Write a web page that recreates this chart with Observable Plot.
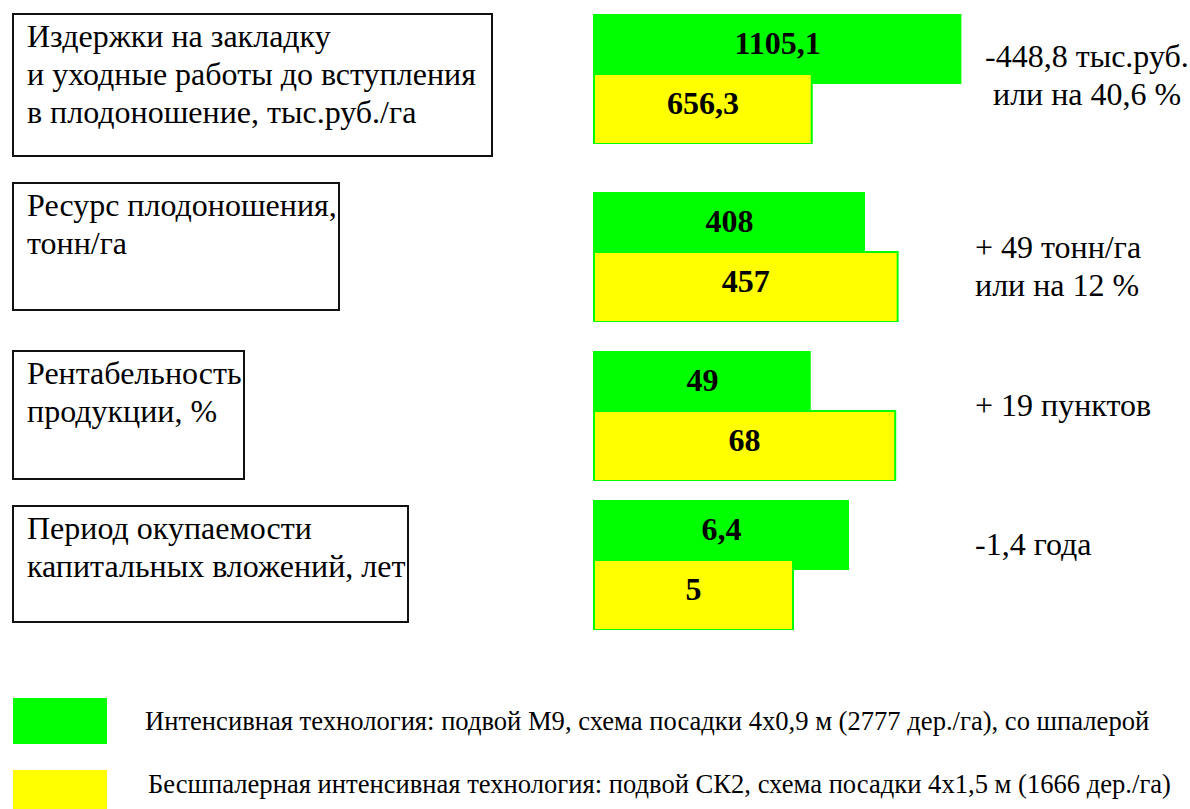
<!DOCTYPE html>
<html>
<head>
<meta charset="utf-8">
<script src="https://cdn.jsdelivr.net/npm/d3@7"></script>
<script src="https://cdn.jsdelivr.net/npm/@observablehq/plot@0.6"></script>
<style>
  html, body { margin: 0; padding: 0; background: #fff; }
  body { width: 1190px; height: 809px; position: relative; overflow: hidden;
         font-family: "Liberation Serif", "Times New Roman", serif; color: #000; }
  .box { position: absolute; box-sizing: border-box; border: 2px solid #111;
         padding: 2px 0 0 13px; font-family: "Liberation Serif", serif;
         font-size: 32px; line-height: 38px; white-space: pre; }
  .note { position: absolute; font-family: "Liberation Serif", serif;
          font-size: 32px; line-height: 38px; white-space: pre; }
  .plot { position: absolute; left: 0; }
  .sw { position: absolute; left: 13px; width: 94px; height: 46px; }
  .leg { position: absolute; font-family: "Liberation Serif", serif;
         font-size: 26.6px; line-height: 38px; white-space: pre; }
</style>
</head>
<body>
<script>
// ---- data ----
const indicators = [
  "Издержки на закладку\nи уходные работы до вступления\nв плодоношение, тыс.руб./га",
  "Ресурс плодоношения,\nтонн/га",
  "Рентабельность\nпродукции, %",
  "Период окупаемости\nкапитальных вложений, лет"
];
const intensiveValues = [1105.1, 408, 49, 6.4];
const noTrellisValues = [656.3, 457, 68, 5];
const changes = [
  "-448,8 тыс.руб.\n или на 40,6 %",
  "+ 49 тонн/га\nили на 12 %",
  "+ 19 пунктов",
  "-1,4 года"
];
const seriesKeys = ["intensive", "noTrellis"];
const seriesNames = [
  "Интенсивная технология: подвой М9, схема посадки 4х0,9 м (2777 дер./га), со шпалерой",
  "Бесшпалерная интенсивная технология: подвой СК2, схема посадки 4х1,5 м (1666 дер./га)"
];
const seriesColors = ["#00ff00", "#ffff00"];
const scaleMax = [1200, 600, 90, 10]; // per-indicator x-axis limits

// ---- layout (positions only) ----
const boxLayout = [
  {left: 12, top: 13, width: 481, height: 144},
  {left: 12, top: 182, width: 328, height: 129},
  {left: 12, top: 350, width: 233, height: 130},
  {left: 12, top: 505, width: 397, height: 118}
];
const plotTops = [14, 192, 351, 500];
const noteLayout = [
  {left: 985, top: 37},
  {left: 975, top: 228},
  {left: 975, top: 386},
  {left: 975, top: 525}
];

const fmt = v => String(v).replace(".", ",");
const labelStyle = {
  fontSize: 32, fontWeight: "bold", fill: "#000",
  fontFamily: "Liberation Serif, Times New Roman, serif"
};

indicators.forEach((label, i) => {
  const box = document.createElement("div");
  box.className = "box";
  Object.assign(box.style, {
    left: boxLayout[i].left + "px", top: boxLayout[i].top + "px",
    width: boxLayout[i].width + "px", height: boxLayout[i].height + "px"
  });
  box.textContent = label;
  document.body.appendChild(box);

  const greenRows = [{series: seriesKeys[0], value: intensiveValues[i]}];
  const yellowRows = [{series: seriesKeys[1], value: noTrellisValues[i]}];
  const chart = Plot.plot({
    width: 1000,
    height: 130,
    marginLeft: 593,
    marginRight: 7,
    marginTop: 0,
    marginBottom: 0,
    x: {domain: [0, scaleMax[i]], axis: null},
    y: {domain: seriesKeys, axis: null, padding: 0},
    color: {domain: seriesKeys, range: seriesColors},
    marks: [
      Plot.barX(greenRows, {
        x: "value", y: "series", fill: "series", insetBottom: -5
      }),
      Plot.barX(yellowRows, {
        x: "value", y: "series", fill: "series", insetTop: -5, insetLeft: 1,
        stroke: seriesColors[0], strokeWidth: 2
      }),
      Plot.text(greenRows, {
        x: d => d.value / 2, y: "series", text: d => fmt(d.value), dy: -3, ...labelStyle
      }),
      Plot.text(yellowRows, {
        x: d => d.value / 2, y: "series", text: d => fmt(d.value), dy: -8, ...labelStyle
      })
    ]
  });
  chart.classList.add("plot");
  chart.style.top = plotTops[i] + "px";
  document.body.appendChild(chart);

  const note = document.createElement("div");
  note.className = "note";
  note.style.left = noteLayout[i].left + "px";
  note.style.top = noteLayout[i].top + "px";
  note.textContent = changes[i];
  document.body.appendChild(note);
});

// legend
const legTops = [{sw: 698, txt: 702, left: 145}, {sw: 770, txt: 765, left: 148}];
seriesNames.forEach((name, i) => {
  const sw = document.createElement("div");
  sw.className = "sw";
  sw.style.top = legTops[i].sw + "px";
  sw.style.background = seriesColors[i];
  document.body.appendChild(sw);
  const t = document.createElement("div");
  t.className = "leg";
  t.style.left = legTops[i].left + "px";
  t.style.top = legTops[i].txt + "px";
  t.textContent = name;
  document.body.appendChild(t);
});
</script>
</body>
</html>
